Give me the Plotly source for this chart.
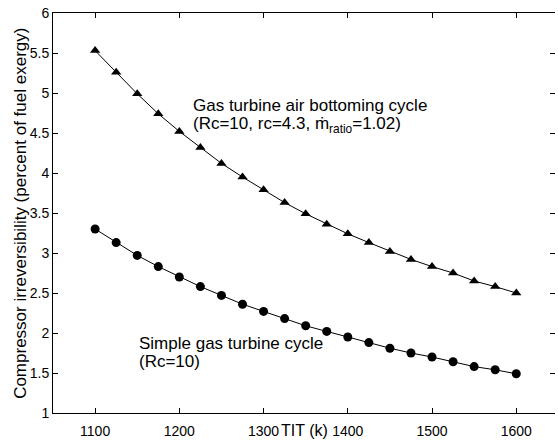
import plotly.graph_objects as go

tit = [1100, 1125, 1150, 1175, 1200, 1225, 1250, 1275, 1300, 1325, 1350,
       1375, 1400, 1425, 1450, 1475, 1500, 1525, 1550, 1575, 1600]
air_bottoming = [5.53, 5.26, 4.99, 4.74, 4.52, 4.32, 4.12, 3.95, 3.79, 3.63, 3.49,
                 3.36, 3.24, 3.13, 3.02, 2.92, 2.83, 2.75, 2.65, 2.58, 2.50]
simple_gt = [3.30, 3.13, 2.97, 2.83, 2.70, 2.58, 2.47, 2.36, 2.27, 2.18, 2.09,
             2.02, 1.95, 1.88, 1.81, 1.75, 1.70, 1.64, 1.58, 1.54, 1.49]
x_ticks = [1100, 1200, 1300, 1400, 1500, 1600]
y_ticks = [1, 1.5, 2, 2.5, 3, 3.5, 4, 4.5, 5, 5.5, 6]
y_tick_text = ["1", "1.5", "2", "2.5", "3", "3.5", "4", "4.5", "5", "5.5", "6"]

FONT = "Arial, Liberation Sans, Helvetica, sans-serif"

fig = go.Figure()
fig.add_trace(go.Scatter(x=tit, y=air_bottoming, mode="lines+markers",
                         line=dict(color="black", width=1),
                         marker=dict(symbol="triangle-up", size=9, color="black"),
                         showlegend=False))
fig.add_trace(go.Scatter(x=tit, y=simple_gt, mode="lines+markers",
                         line=dict(color="black", width=1),
                         marker=dict(symbol="circle", size=9, color="black"),
                         showlegend=False))
# invisible trace to activate right-side tick axis
fig.add_trace(go.Scatter(x=[tit[0]], y=[simple_gt[0]], yaxis="y2", mode="markers",
                         marker=dict(opacity=0), showlegend=False, hoverinfo="skip"))

fig.update_layout(
    width=558, height=441,
    margin=dict(l=53, r=3, t=13, b=28),
    paper_bgcolor="white", plot_bgcolor="white",
    font=dict(family=FONT, size=14, color="black"),
    xaxis=dict(range=[1050, 1646], tickvals=x_ticks, ticks="inside", ticklen=5,
               tickcolor="black", showline=True, linecolor="black", linewidth=1,
               mirror="ticks", showgrid=False, zeroline=False,
               ticklabelstandoff=5, tickfont=dict(size=14)),
    yaxis=dict(range=[1, 6], tickvals=y_ticks, ticktext=y_tick_text, ticks="inside",
               ticklen=5, tickcolor="black", showline=True, linecolor="black",
               linewidth=1, showgrid=False, zeroline=False, tickfont=dict(size=14)),
    yaxis2=dict(range=[1, 6], tickvals=y_ticks, overlaying="y", side="right",
                ticks="inside", ticklen=5, tickcolor="black", showline=False,
                showticklabels=False, showgrid=False, zeroline=False),
)

fig.add_annotation(text="TIT (k)", xref="paper", yref="paper", x=0.5, y=-0.07,
                   showarrow=False, xanchor="center", yanchor="bottom",
                   font=dict(size=16))
fig.add_annotation(text="Compressor irreversibility (percent of fuel exergy)",
                   xref="paper", yref="paper", x=-0.066, y=0.5, textangle=-90,
                   showarrow=False, xanchor="center", yanchor="middle",
                   font=dict(size=17))
fig.add_annotation(text="Gas turbine air bottoming cycle",
                   x=1214, y=4.84, xref="x", yref="y", showarrow=False,
                   xanchor="left", yanchor="middle", font=dict(size=17))
fig.add_annotation(text="(Rc=10, rc=4.3, ṁ<sub>ratio</sub>=1.02)",
                   x=1214, y=4.60, xref="x", yref="y", showarrow=False,
                   xanchor="left", yanchor="middle", font=dict(size=17))
fig.add_annotation(text="Simple gas turbine cycle",
                   x=1150, y=1.875, xref="x", yref="y", showarrow=False,
                   xanchor="left", yanchor="middle", font=dict(size=17))
fig.add_annotation(text="(Rc=10)",
                   x=1150, y=1.645, xref="x", yref="y", showarrow=False,
                   xanchor="left", yanchor="middle", font=dict(size=17))

fig.write_html("out.html")
